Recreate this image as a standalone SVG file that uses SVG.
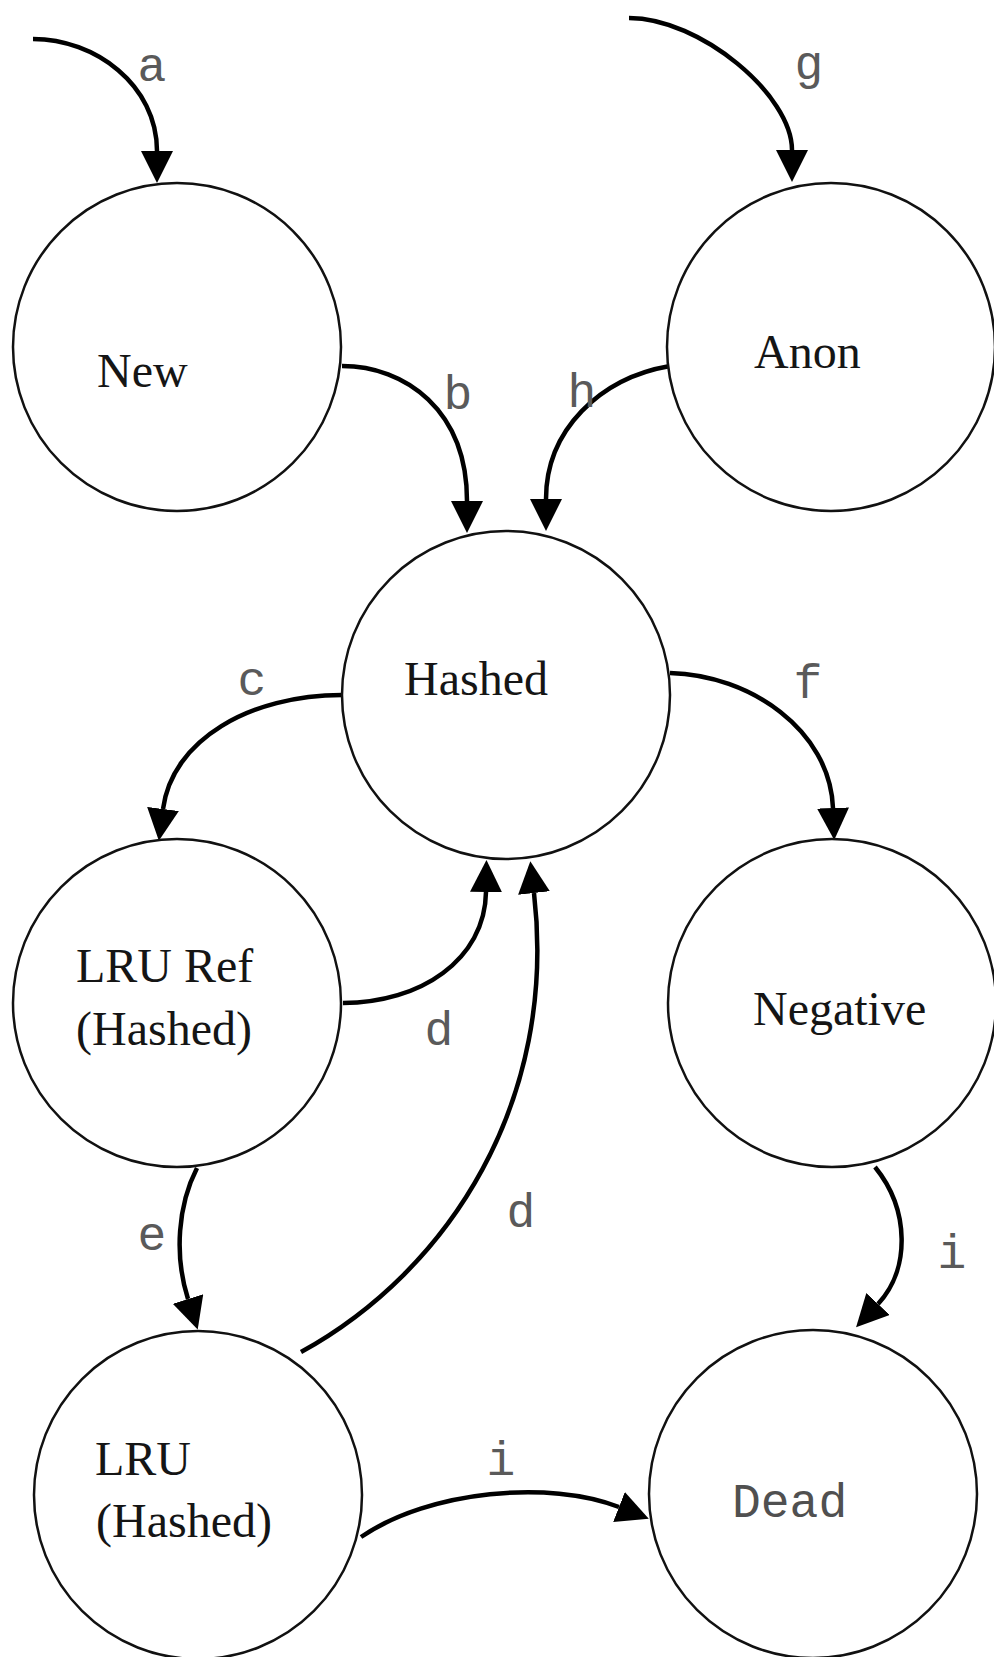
<svg xmlns="http://www.w3.org/2000/svg" width="994" height="1657" viewBox="0 0 994 1657">
  <style>
    .state { fill: #ffffff; stroke: #111111; stroke-width: 2.5; }
    .name { font-family: "Liberation Serif", "Times New Roman", serif; font-size: 48px; fill: #151515; }
    .mono { font-family: "Liberation Mono", "Courier New", monospace; font-size: 48px; fill: #505050; }
    .edge { fill: none; stroke: #000000; stroke-width: 4.5; marker-end: url(#head); }
    .tag { font-family: "Liberation Mono", "Courier New", monospace; font-size: 48px; fill: #5a5a5a; text-anchor: middle; }
  </style>
  <defs>
    <marker id="head" viewBox="0 0 32 32" refX="0" refY="16" markerWidth="32" markerHeight="32" markerUnits="userSpaceOnUse" orient="auto">
      <path d="M0,0 L32,16 L0,32 Z" fill="#000000"/>
    </marker>
  </defs>
  <rect width="994" height="1657" fill="#ffffff"/>

  <!-- transitions -->
  <g id="connectors">
    <path class="edge" d="M33 39 C 95 39, 157 85, 157 151"/>
    <path class="edge" d="M629 18 C 700 18, 792 95, 792 150"/>
    <path class="edge" d="M342 366 C 405 366, 467 410, 467 501"/>
    <path class="edge" d="M670 366 C 600 378, 546 430, 546 499"/>
    <path class="edge" d="M342 695 C 250 695, 172 740, 163 809"/>
    <path class="edge" d="M670 673 C 750 675, 830 730, 833 808"/>
    <path class="edge" d="M343 1003 C 420 1003, 485 960, 486 892"/>
    <path class="edge" d="M301 1352 C 450 1270, 558 1100, 534 893"/>
    <path class="edge" d="M197 1168 C 178 1205, 174 1255, 188 1299"/>
    <path class="edge" d="M875 1167 C 910 1210, 910 1270, 878 1304"/>
    <path class="edge" d="M361 1537 C 430 1490, 550 1480, 619 1507"/>

    <text class="tag" x="152" y="81">a</text>
    <text class="tag" x="809" y="79">g</text>
    <text class="tag" x="458" y="409">b</text>
    <text class="tag" x="582" y="407">h</text>
    <text class="tag" x="252" y="695">c</text>
    <text class="tag" x="808" y="698">f</text>
    <text class="tag" x="439" y="1045">d</text>
    <text class="tag" x="521" y="1227">d</text>
    <text class="tag" x="152" y="1250">e</text>
    <text class="tag" x="952" y="1268">i</text>
    <text class="tag" x="501" y="1475">i</text>
  </g>

  <g id="new">
    <circle class="state" cx="177" cy="347" r="164"/>
    <text class="name" x="97" y="387">New</text>
  </g>
  <g id="anon">
    <circle class="state" cx="831" cy="347" r="164"/>
    <text class="name" x="754" y="368">Anon</text>
  </g>
  <g id="hashed">
    <circle class="state" cx="506" cy="695" r="164"/>
    <text class="name" x="404" y="695">Hashed</text>
  </g>
  <g id="lru-ref">
    <circle class="state" cx="177" cy="1003" r="164"/>
    <text class="name" x="76" y="982">LRU Ref</text>
    <text class="name" x="76" y="1045">(Hashed)</text>
  </g>
  <g id="negative">
    <circle class="state" cx="832" cy="1003" r="164"/>
    <text class="name" x="753" y="1025">Negative</text>
  </g>
  <g id="lru">
    <circle class="state" cx="198" cy="1495" r="164"/>
    <text class="name" x="95" y="1475">LRU</text>
    <text class="name" x="96" y="1537">(Hashed)</text>
  </g>
  <g id="dead">
    <circle class="state" cx="813" cy="1494" r="164"/>
    <text class="mono" x="732" y="1517">Dead</text>
  </g>
</svg>
